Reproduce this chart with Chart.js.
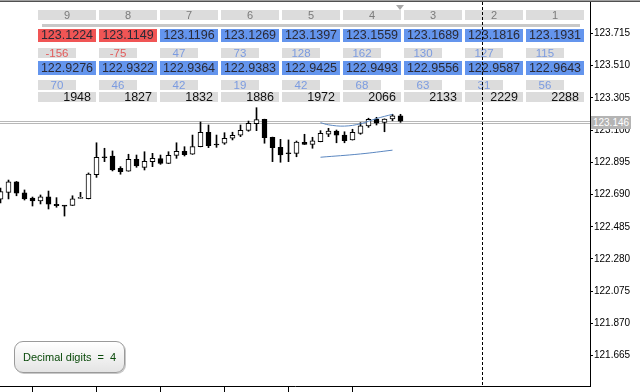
<!DOCTYPE html>
<html lang="en">
<head>
    <meta charset="UTF-8">
    <title>USDJPY M5</title>
    <style>
        body { margin: 0; background: #fff; }
        #wrap {
            position: relative;
            width: 640px;
            height: 392px;
            overflow: hidden;
            font-family: 'Liberation Sans', Arial, sans-serif;
        }
        #wrap canvas { position: absolute; left: 0; top: 0; }
        .cell {
            position: absolute;
            box-sizing: border-box;
            white-space: nowrap;
            text-align: center;
        }
        .head { background: #dcdcdc; color: #7a7a7a; font-size: 11px; line-height: 10px; }
        .price { color: #2a2a36; font-size: 12.5px; }
        .diff { background: #dcdcdc; font-size: 11.5px; line-height: 10px; }
        .total { background: #dcdcdc; color: #111; font-size: 12.5px; line-height: 11px; text-align: right; padding-right: 5px; }
        #digits {
            position: absolute;
            left: 14px; top: 341px;
            width: 111px; height: 32px;
            box-sizing: border-box;
            border: 1px solid #9a9a9a;
            border-radius: 9px;
            background: linear-gradient(#ffffff, #e4e4e4);
            box-shadow: 1px 1px 0 #c8c8c8;
            color: #0a4a0a;
            font-size: 11px;
            line-height: 30px;
            padding-left: 8px;
            white-space: pre;
        }
        #vline {
            position: absolute;
            width: 1px;
            background: repeating-linear-gradient(to bottom, #000 0 3px, transparent 3px 5px);
        }
        #bidLabel {
            position: absolute;
            width: 40px; height: 13px;
            background: #b4b4b4;
            color: #fff;
            font-size: 10px;
            line-height: 13px;
            text-align: center;
        }
    </style>
</head>
<body>
<div id="wrap">
    <canvas id="mychart" width="640" height="392"></canvas>
    <div id="panel"></div>
    <div id="vline"></div>
    <div id="bidLabel"></div>
    <div id="digits">Decimal digits  =  4</div>
</div>
<script src="https://cdn.jsdelivr.net/npm/chart.js@4.4.0/dist/chart.umd.min.js"></script>
<script>
    // 패널 데이터 (9 ~ 1)
    const columns = ['9', '8', '7', '6', '5', '4', '3', '2', '1']
    const highs = [123.1224, 123.1149, 123.1196, 123.1269, 123.1397, 123.1559, 123.1689, 123.1816, 123.1931]
    const highDiffs = [-156, -75, 47, 73, 128, 162, 130, 127, 115]
    const lows = [122.9276, 122.9322, 122.9364, 122.9383, 122.9425, 122.9493, 122.9556, 122.9587, 122.9643]
    const lowDiffs = [70, 46, 42, 19, 42, 68, 63, 31, 56]
    const totals = [1948, 1827, 1832, 1886, 1972, 2066, 2133, 2229, 2288]

    // 캔들 데이터 (open, high, low, close)
    const candleOpen = [122.660, 122.704, 122.771, 122.700, 122.668, 122.649, 122.676, 122.628, 122.619, 122.621,
        122.665, 122.663, 122.816, 122.930, 122.935, 122.857, 122.839, 122.914, 122.863, 122.899,
        122.918, 122.888, 122.939, 122.965, 122.946, 122.994, 123.086, 123.007, 123.016, 123.049,
        123.068, 123.098, 123.140, 123.168, 123.054, 122.990, 122.954, 122.952, 123.022, 123.009,
        123.026, 123.073, 123.094, 123.068, 123.037, 123.079, 123.126, 123.170, 123.149, 123.170, 123.191]
    const candleHigh = [122.731, 122.782, 122.773, 122.719, 122.674, 122.687, 122.712, 122.670, 122.620, 122.682,
        122.704, 122.827, 123.019, 122.984, 122.967, 122.867, 122.946, 122.941, 122.962, 122.952,
        122.941, 122.962, 123.019, 122.994, 123.068, 123.151, 123.132, 123.068, 123.083, 123.086,
        123.132, 123.157, 123.242, 123.169, 123.055, 123.041, 123.037, 123.030, 123.073, 123.054,
        123.096, 123.111, 123.100, 123.089, 123.105, 123.147, 123.175, 123.181, 123.171, 123.200, 123.200]
    const candleLow = [122.636, 122.662, 122.682, 122.655, 122.617, 122.630, 122.598, 122.609, 122.553, 122.620,
        122.665, 122.662, 122.799, 122.899, 122.840, 122.819, 122.838, 122.863, 122.846, 122.867,
        122.882, 122.887, 122.920, 122.935, 122.945, 122.993, 122.988, 122.990, 123.009, 123.037,
        123.058, 123.092, 123.096, 123.016, 122.899, 122.895, 122.899, 122.930, 123.008, 122.984,
        123.025, 123.058, 123.019, 123.019, 123.036, 123.073, 123.117, 123.132, 123.089, 123.159, 123.149]
    const candleClose = [122.708, 122.771, 122.698, 122.662, 122.649, 122.676, 122.628, 122.619, 122.616, 122.663,
        122.666, 122.820, 122.927, 122.924, 122.846, 122.835, 122.914, 122.871, 122.901, 122.920,
        122.888, 122.939, 122.965, 122.943, 122.994, 123.086, 123.000, 123.005, 123.047, 123.066,
        123.098, 123.143, 123.166, 123.051, 122.988, 122.941, 122.949, 123.024, 123.009, 123.032,
        123.079, 123.094, 123.068, 123.032, 123.086, 123.127, 123.168, 123.143, 123.170, 123.191, 123.157]

    // 채널 라인 (파란 선)
    const upperIdx = [40, 41, 43, 45, 47, 49]
    const upperVal = [123.147, 123.133, 123.125, 123.140, 123.173, 123.200]
    const lowerIdx = [40, 45, 49]
    const lowerVal = [122.927, 122.948, 122.972]

    const bidPrice = 123.146
    const separatorAt = 60.25
    const yTickValues = [121.665, 121.870, 122.075, 122.280, 122.485, 122.690, 122.895, 123.100, 123.305, 123.510, 123.715]
    const xTickIdx = [4, 12, 20, 28, 36, 44]
</script>
<script>
    // 상단 패널 만들기
    const panel = document.querySelector('#panel')

    function addCell(cls, left, top, width, height, text, style) {
        const d = document.createElement('div')
        d.className = 'cell ' + cls
        d.style.left = left + 'px'
        d.style.top = top + 'px'
        d.style.width = width + 'px'
        d.style.height = height + 'px'
        d.textContent = text
        if (style) Object.assign(d.style, style)
        panel.appendChild(d)
        return d
    }

    columns.forEach((c, i) => {
        const left = 38 + i * 61
        const up = highDiffs[i] >= 0
        addCell('head', left, 10, 58, 10, c)
        addCell('price', left, 29, 58, 13, highs[i].toFixed(4),
            { background: up ? '#6495ed' : '#f05555', lineHeight: '13px' })
        addCell('diff', left, 48, 38, 10, String(highDiffs[i]),
            { color: up ? '#7b9be0' : '#e35a5a' })
        addCell('price', left, 61, 58, 14, lows[i].toFixed(4),
            { background: '#6495ed', lineHeight: '14px' })
        addCell('diff', left, 80, 38, 10, String(lowDiffs[i]), { color: '#7b9be0' })
        addCell('total', left, 92, 58, 10, String(totals[i]))
    })
    // 헤더 아래 회색 선
    addCell('', 42, 24, 538, 3, '', { background: '#c8c8c8' })
    // 차트 시프트 삼각형
    addCell('', 396, 5, 0, 0, '', {
        borderLeft: '4px solid transparent',
        borderRight: '4px solid transparent',
        borderTop: '5px solid #a8a8a8'
    })
</script>
<script>
    const bodies = []
    const bodyColors = []
    const wicks = []
    candleOpen.forEach((o, i) => {
        bodies.push({ x: i, y: [o, candleClose[i]] })
        bodyColors.push(candleClose[i] >= o ? '#ffffff' : '#000000')
        wicks.push({ x: i, y: [candleLow[i], candleHigh[i]] })
    })
    const upperPts = upperIdx.map((x, i) => ({ x: x, y: upperVal[i] }))
    const lowerPts = lowerIdx.map((x, i) => ({ x: x, y: lowerVal[i] }))

    // 가격선, 구분선, 프레임
    const decor = {
        id: 'decor',
        beforeDatasetsDraw(chart) {
            const { ctx, chartArea, scales } = chart
            const y = Math.round(scales.y.getPixelForValue(bidPrice))
            ctx.save()
            ctx.fillStyle = '#b8b8b8'
            ctx.fillRect(chartArea.left, y - 2, chartArea.right - chartArea.left, 1)
            ctx.fillRect(chartArea.left, y, chartArea.right - chartArea.left, 1)
            ctx.restore()
        },
        afterDraw(chart) {
            const { ctx, chartArea, scales } = chart
            ctx.save()
            ctx.fillStyle = '#a0a0a0'
            ctx.fillRect(0, 0, 640, 1)
            ctx.fillStyle = '#505050'
            ctx.fillRect(0, 1, 640, 1)
            ctx.restore()

            const vx = Math.floor(scales.x.getPixelForValue(separatorAt))
            const vline = document.querySelector('#vline')
            vline.style.left = vx + 'px'
            vline.style.top = chartArea.top + 'px'
            vline.style.height = (chartArea.bottom - chartArea.top) + 'px'

            const by = Math.round(scales.y.getPixelForValue(bidPrice))
            const label = document.querySelector('#bidLabel')
            label.textContent = bidPrice.toFixed(3)
            label.style.left = (chartArea.right + 1) + 'px'
            label.style.top = (by - 7) + 'px'
        }
    }

    const plotWidth = 590
    const xMin = -0.0625

    new Chart(document.querySelector('#mychart'), {
        type: 'bar',
        data: {
            datasets: [
                {
                    label: 'body',
                    data: bodies,
                    backgroundColor: bodyColors,
                    borderColor: '#000',
                    borderWidth: 1,
                    borderSkipped: false,
                    barThickness: 5,
                    minBarLength: 1,
                    grouped: false,
                    order: 1,
                },
                {
                    label: 'wick',
                    data: wicks,
                    backgroundColor: '#000',
                    borderWidth: 0,
                    barThickness: 1,
                    grouped: false,
                    order: 2,
                },
                {
                    type: 'line',
                    label: 'upper',
                    data: upperPts,
                    borderColor: '#5b87c0',
                    borderWidth: 1,
                    pointRadius: 0,
                    tension: 0.4,
                    order: 0,
                },
                {
                    type: 'line',
                    label: 'lower',
                    data: lowerPts,
                    borderColor: '#5b87c0',
                    borderWidth: 1,
                    pointRadius: 0,
                    tension: 0.4,
                    order: 0,
                },
            ],
        },
        options: {
            responsive: false,
            animation: false,
            layout: { padding: { top: 2 } },
            plugins: { legend: { display: false }, tooltip: { enabled: false } },
            scales: {
                x: {
                    type: 'linear',
                    min: xMin,
                    max: xMin + plotWidth / 8,
                    offset: false,
                    grid: { drawOnChartArea: false, offset: false, tickLength: 6, color: '#000' },
                    border: { color: '#000' },
                    ticks: { display: false },
                    afterBuildTicks: s => { s.ticks = xTickIdx.map(v => ({ value: v })) },
                    afterFit: s => { s.height = 6; s.paddingLeft = 0; s.paddingRight = 0 },
                },
                y: {
                    position: 'right',
                    min: 121.4725,
                    max: 123.914,
                    grid: { drawOnChartArea: false, tickLength: 3, color: '#000' },
                    border: { color: '#000' },
                    ticks: {
                        color: '#000',
                        padding: 1,
                        font: { size: 10, family: 'Liberation Sans' },
                        callback: v => Number(v).toFixed(3),
                    },
                    afterBuildTicks: s => { s.ticks = yTickValues.map(v => ({ value: v })) },
                    afterFit: s => { s.width = 640 - plotWidth; s.paddingTop = 0; s.paddingBottom = 0 },
                },
            },
        },
        plugins: [decor],
    })
</script>
</body>
</html>
